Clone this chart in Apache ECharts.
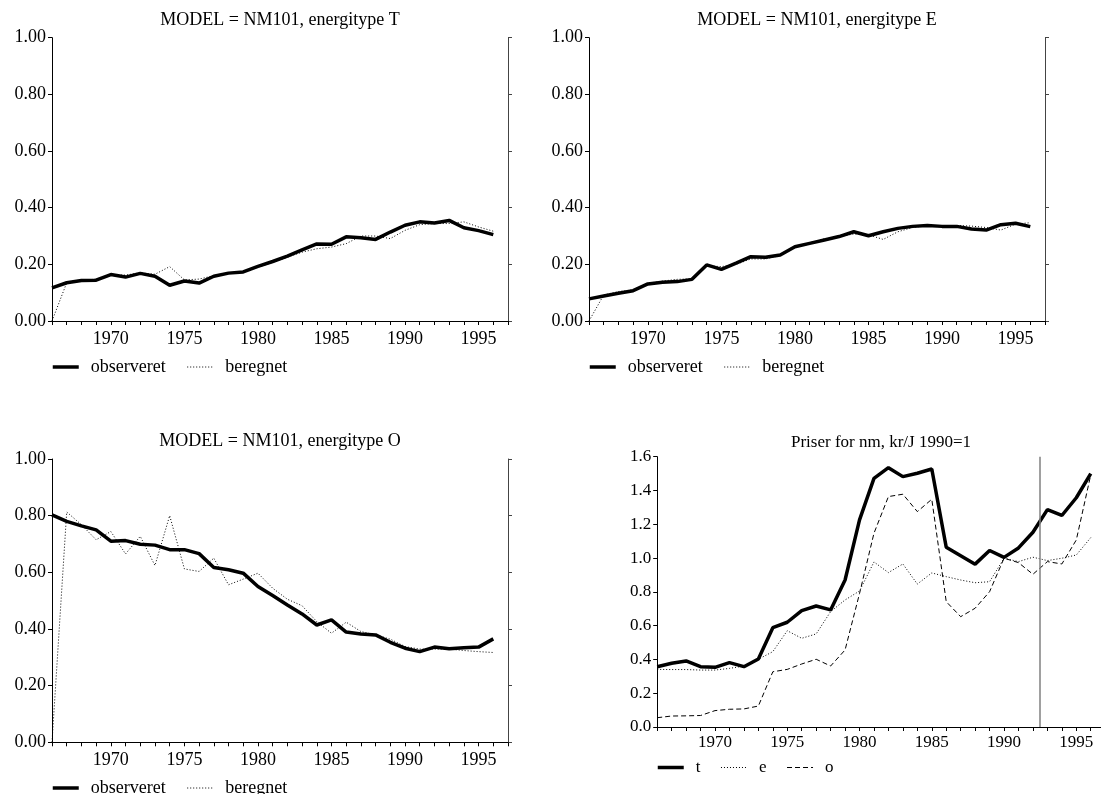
<!DOCTYPE html>
<html><head><meta charset="utf-8">
<script src="https://cdn.jsdelivr.net/npm/echarts@6/dist/echarts.min.js"></script>
<style>html,body{margin:0;padding:0;background:#fff;overflow:hidden;width:1101px;height:794px}#c{width:1112px;height:794px}</style>
</head><body><div id="c"></div>
<script>
const years = [1966,1967,1968,1969,1970,1971,1972,1973,1974,1975,1976,1977,1978,1979,1980,1981,1982,1983,1984,1985,1986,1987,1988,1989,1990,1991,1992,1993,1994,1995,1996];

const titleT = 'MODEL = NM101, energitype T';
const titleE = 'MODEL = NM101, energitype E';
const titleO = 'MODEL = NM101, energitype O';
const titleP = 'Priser for nm, kr/J 1990=1';

const tObs = [0.117,0.135,0.143,0.144,0.164,0.155,0.168,0.158,0.126,0.141,0.134,0.158,0.169,0.173,0.193,0.210,0.229,0.251,0.272,0.271,0.297,0.294,0.288,0.314,0.338,0.350,0.346,0.355,0.329,0.319,0.305];
const tBer = [0.000,0.135,0.143,0.148,0.162,0.162,0.170,0.165,0.192,0.145,0.148,0.160,0.168,0.175,0.190,0.207,0.225,0.243,0.255,0.261,0.273,0.300,0.300,0.291,0.320,0.340,0.344,0.344,0.350,0.332,0.317];

const eObs = [0.078,0.088,0.098,0.107,0.131,0.137,0.139,0.147,0.198,0.182,0.204,0.227,0.225,0.233,0.262,0.274,0.286,0.298,0.315,0.301,0.315,0.327,0.334,0.337,0.334,0.334,0.325,0.321,0.340,0.345,0.333];
const eBer = [0.000,0.092,0.104,0.110,0.133,0.141,0.147,0.149,0.195,0.192,0.200,0.219,0.219,0.231,0.260,0.276,0.290,0.298,0.307,0.304,0.288,0.315,0.330,0.337,0.335,0.337,0.335,0.330,0.321,0.342,0.347];

const oObs = [0.803,0.780,0.764,0.750,0.710,0.712,0.699,0.696,0.680,0.680,0.666,0.617,0.609,0.597,0.550,0.518,0.485,0.453,0.414,0.432,0.389,0.382,0.379,0.353,0.332,0.320,0.336,0.330,0.334,0.336,0.365];
const oBer = [0.000,0.813,0.768,0.715,0.744,0.665,0.727,0.624,0.800,0.612,0.603,0.650,0.556,0.576,0.597,0.544,0.505,0.482,0.426,0.385,0.424,0.391,0.379,0.364,0.338,0.329,0.329,0.329,0.324,0.320,0.317];

const priceT = [0.357,0.377,0.391,0.357,0.353,0.381,0.357,0.403,0.588,0.620,0.689,0.716,0.693,0.870,1.226,1.472,1.535,1.482,1.502,1.527,1.064,1.014,0.964,1.045,1.004,1.060,1.153,1.287,1.252,1.357,1.500];
const priceE = [0.341,0.340,0.340,0.337,0.337,0.347,0.361,0.401,0.446,0.570,0.525,0.551,0.683,0.752,0.805,0.977,0.914,0.965,0.846,0.912,0.890,0.870,0.854,0.860,0.999,0.979,1.005,0.985,0.999,1.018,1.121];
const priceO = [0.055,0.065,0.066,0.068,0.097,0.105,0.107,0.124,0.327,0.341,0.373,0.401,0.361,0.456,0.790,1.147,1.364,1.378,1.275,1.348,0.742,0.653,0.703,0.801,0.999,0.973,0.904,0.979,0.965,1.107,1.492];

const markYear = 1992.5;
const legendModel = ['observeret', 'beregnet'];
const legendPrice = ['t', 'e', 'o'];

const FF = '"Liberation Serif", "DejaVu Serif", serif';
const pair = v => years.map((y, i) => [y, v[i]]);

function xAx(g, fs, margin) {
  return {
    type: 'value', gridIndex: g, min: 1966, max: 1997, interval: 1,
    axisLine: { onZero: false, lineStyle: { color: '#000', width: 1 } },
    axisTick: { length: 4, lineStyle: { color: '#000' } },
    axisLabel: { fontFamily: FF, fontSize: fs, color: '#000', margin: margin,
      formatter: v => (v % 5 === 0 ? String(v) : '') },
    splitLine: { show: false }
  };
}
function yAx(g, max, interval, dec, fs, right) {
  return {
    type: 'value', gridIndex: g, min: 0, max: max, interval: interval,
    position: right ? 'right' : 'left',
    axisLine: { show: true, onZero: false, lineStyle: { color: right ? '#444' : '#000', width: 1 } },
    axisTick: { show: true, length: 4, lineStyle: { color: right ? '#444' : '#000' } },
    axisLabel: { show: !right, fontFamily: FF, fontSize: fs, color: '#000', margin: 6,
      formatter: v => v.toFixed(dec) },
    splitLine: { show: false }
  };
}
const thick = { color: '#000', width: 3.5, type: 'solid' };
const dotted = { color: '#000', width: 1, type: [1, 2] };
const dashed = { color: '#000', width: 1, type: [5, 3] };
function ser(name, xi, yi, data, ls) {
  return { name: name, type: 'line', xAxisIndex: xi, yAxisIndex: yi, data: pair(data),
    symbol: 'none', showSymbol: false, lineStyle: ls, itemStyle: { color: '#000' },
    silent: true, z: ls === thick ? 3 : 2 };
}
function ttl(text, cx, top, fs) {
  return { text: text, left: cx, top: top, textAlign: 'center', padding: 0,
    textStyle: { fontFamily: FF, fontSize: fs, fontWeight: 'normal', color: '#000' } };
}
function leg(data, left, top, fs, gap) {
  return { data: data, left: left, top: top, padding: 0, orient: 'horizontal',
    itemWidth: 26, itemHeight: 14, itemGap: gap, selectedMode: false,
    lineStyle: { width: 'inherit' },
    itemStyle: { opacity: 0, color: 'rgba(0,0,0,0)', borderWidth: 0 },
    textStyle: { fontFamily: FF, fontSize: fs, color: '#000', padding: [0, 0, 0, 7] } };
}

const markSeries = ser('o', 3, 3, priceO, dashed);
markSeries.markLine = { silent: true, symbol: 'none', label: { show: false },
  lineStyle: { color: '#808080', width: 1.5, type: 'solid' },
  data: [{ xAxis: markYear }] };

const option = {
  animation: false,
  backgroundColor: '#fff',
  title: [
    ttl(titleT, 280, 11, 18),
    ttl(titleE, 817, 11, 18),
    ttl(titleO, 280, 432, 18),
    ttl(titleP, 881, 434, 17)
  ],
  legend: [
    leg(legendModel, 51, 358, 18, 21),
    leg(legendModel, 588, 358, 18, 21),
    leg(legendModel, 51, 779, 18, 21),
    leg(legendPrice, 656, 759, 17, 20)
  ],
  grid: [
    { left: 52, top: 37.7, width: 456, height: 283.3 },
    { left: 589, top: 37.7, width: 456, height: 283.3 },
    { left: 52, top: 459, width: 456, height: 283.3 },
    { left: 657.2, top: 456.7, width: 448, height: 270.3 }
  ],
  xAxis: [xAx(0, 18, 9), xAx(1, 18, 9), xAx(2, 18, 9), xAx(3, 17, 7)],
  yAxis: [
    yAx(0, 1, 0.2, 2, 18, false),
    yAx(1, 1, 0.2, 2, 18, false),
    yAx(2, 1, 0.2, 2, 18, false),
    yAx(3, 1.6, 0.2, 1, 17, false),
    yAx(0, 1, 0.2, 2, 18, true),
    yAx(1, 1, 0.2, 2, 18, true),
    yAx(2, 1, 0.2, 2, 18, true)
  ],
  series: [
    ser('beregnet', 0, 0, tBer, dotted),
    ser('observeret', 0, 0, tObs, thick),
    ser('beregnet', 1, 1, eBer, dotted),
    ser('observeret', 1, 1, eObs, thick),
    ser('beregnet', 2, 2, oBer, dotted),
    ser('observeret', 2, 2, oObs, thick),
    ser('e', 3, 3, priceE, dotted),
    markSeries,
    ser('t', 3, 3, priceT, thick)
  ]
};
const chart = echarts.init(document.getElementById('c'), null, { renderer: 'canvas' });
chart.setOption(option);
</script>
</body></html>
